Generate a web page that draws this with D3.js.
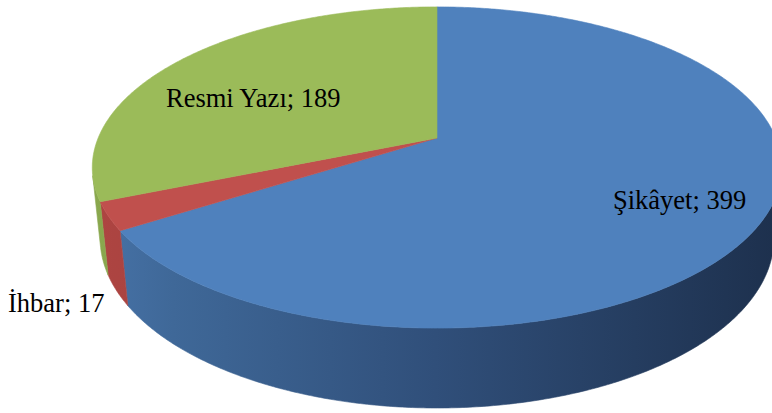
<!DOCTYPE html>
<html><head><meta charset="utf-8">
<script src="https://cdn.jsdelivr.net/npm/d3@7"></script>
<style>html,body{margin:0;padding:0;background:#fff;}svg{display:block;}
.lbl{font-family:"Liberation Serif","Times New Roman",serif;font-size:26.5px;fill:#000;}</style>
</head><body>
<script>
// ---- data ----
const categories = ["Şikâyet", "İhbar", "Resmi Yazı"];
const values = [399, 17, 189];
const labelTexts = categories.map((c, i) => c + "; " + values[i]);

// ---- styles ----
const topColors = ["#4F81BD", "#C0504D", "#9BBB59"];
const sideStops = [
  [["0", "#4773A8"], ["0.12", "#3F6898"], ["0.5", "#304F7A"], ["1", "#1D304D"]],
  [["0", "#AE4542"], ["1", "#7A2A28"]],
  [["0", "#8AA84E"], ["1", "#5E7534"]]
];

// ---- layout ----
const W = 772, H = 413;
const cx = 437, cy = 138;
const sinA = 0.458, cosA = Math.sqrt(1 - sinA * sinA);
const Dist = 4.84, focal = 1640, thick = 0.2366;
const labelPos = [[613, 209], [8, 312], [166, 107]];

const svg = d3.select("body").append("svg").attr("width", W).attr("height", H);
const defs = svg.append("defs");
sideStops.forEach((stops, i) => {
  const g = defs.append("linearGradient").attr("id", "side" + i)
    .attr("gradientUnits", "userSpaceOnUse").attr("x1", 90).attr("x2", 780).attr("y1", 0).attr("y2", 0);
  stops.forEach(s => g.append("stop").attr("offset", s[0]).attr("stop-color", s[1]));
});

function proj(X, Y, Z) {
  const depth = Dist - Y * cosA - Z * sinA;
  return [cx + focal * X / depth, cy + focal * (Y * sinA - Z * cosA) / depth];
}
function circ(phi, r, z) { return proj(r * Math.sin(phi), -r * Math.cos(phi), z); }
function sample(a0, a1) {
  const n = Math.max(2, Math.ceil(Math.abs(a1 - a0) / (Math.PI / 360)));
  return d3.range(n + 1).map(i => a0 + (a1 - a0) * i / n);
}

const pie = d3.pie().sort(null).startAngle(0).endAngle(2 * Math.PI);
const arcs = pie(values);

// visible wall range: where outward normal faces camera
const k = 1 / (Dist * cosA);
const visA0 = Math.acos(-k), visA1 = 2 * Math.PI - Math.acos(-k);
const line = d3.line();

const walls = svg.append("g");
arcs.forEach((a, i) => {
  const s = Math.max(a.startAngle, visA0), e = Math.min(a.endAngle, visA1);
  if (e <= s) return;
  const angs = sample(s, e);
  const top = angs.map(p => circ(p, 1, 0));
  const bot = angs.slice().reverse().map(p => circ(p, 1, -thick));
  walls.append("path").attr("d", line(top.concat(bot)) + "Z")
    .attr("fill", `url(#side${i})`).attr("stroke", `url(#side${i})`).attr("stroke-width", 0.6);
});

const tops = svg.append("g");
arcs.forEach((a, i) => {
  const pts = [proj(0, 0, 0)].concat(sample(a.startAngle, a.endAngle).map(p => circ(p, 1, 0)));
  tops.append("path").attr("d", line(pts) + "Z")
    .attr("fill", topColors[i]).attr("stroke", topColors[i]).attr("stroke-width", 0.6);
});

svg.append("g").selectAll("text").data(labelTexts).join("text")
  .attr("class", "lbl")
  .attr("x", (d, i) => labelPos[i][0]).attr("y", (d, i) => labelPos[i][1])
  .text(d => d);
</script>
</body></html>
